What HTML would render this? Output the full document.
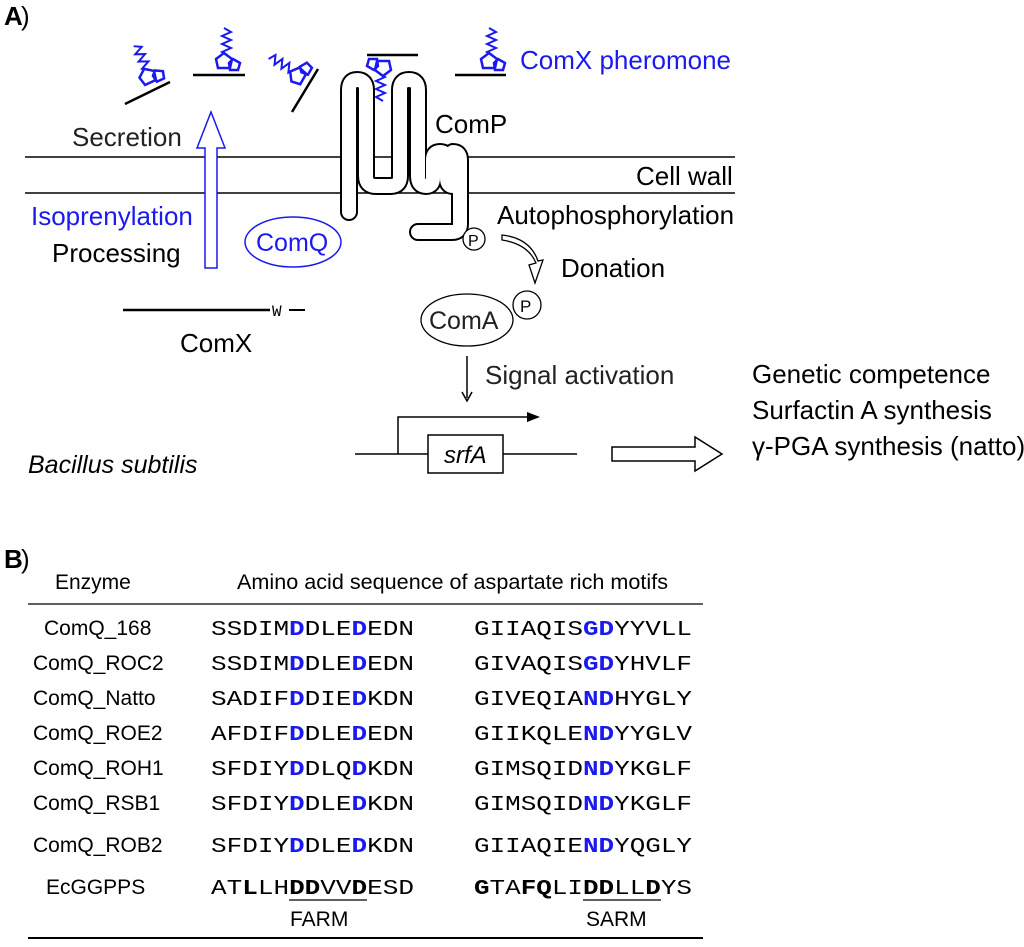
<!DOCTYPE html>
<html><head><style>
html,body{margin:0;padding:0;background:#fff;}
svg text{font-family:"Liberation Sans",sans-serif;}
.m{font-family:"Liberation Mono",monospace !important;font-size:21px;}
.b{font-weight:bold;}
.bl{fill:#1a1aee;font-weight:bold;}
</style></head><body>
<svg width="1024" height="942" viewBox="0 0 1024 942" xmlns="http://www.w3.org/2000/svg">
<defs>
<g id="lig">
 <polyline points="0,-34 7,-30 -2,-26 7,-22 -2,-18 7,-14 -2,-10 4,-6" fill="none" stroke="#1a1aee" stroke-width="2"/>
 <polygon points="0,-9 8,-3 6,6 -6,6 -8,-3" fill="none" stroke="#1a1aee" stroke-width="2.5"/>
 <polygon points="9,-3 16,1 14,8 6,8 5,1" fill="none" stroke="#1a1aee" stroke-width="2.5"/>
</g>
</defs>
<text x="4" y="25" font-size="26" class="b">A</text><text x="21" y="25" font-size="26">)</text>
<!-- ligands -->
<line x1="125" y1="104" x2="170" y2="82" stroke="#000" stroke-width="2.5"/>
<g transform="translate(148,77) rotate(-25)"><use href="#lig"/></g>
<line x1="193" y1="75" x2="245" y2="75" stroke="#000" stroke-width="2.5"/>
<g transform="translate(224,62)"><use href="#lig"/></g>
<line x1="292" y1="112" x2="318" y2="69" stroke="#000" stroke-width="2.5"/>
<g transform="translate(298,76) rotate(-60)"><use href="#lig"/></g>
<line x1="367" y1="55" x2="418" y2="55" stroke="#000" stroke-width="2.5"/>
<g transform="translate(383,67) rotate(180)"><use href="#lig"/></g>
<line x1="455" y1="75" x2="506" y2="75" stroke="#000" stroke-width="2.5"/>
<g transform="translate(489,62)"><use href="#lig"/></g>
<text x="520" y="69" font-size="26" fill="#1a1aee">ComX pheromone</text>
<!-- membrane -->
<line x1="25" y1="157" x2="735" y2="157" stroke="#000" stroke-width="1.5"/>
<line x1="25" y1="193" x2="735" y2="193" stroke="#000" stroke-width="1.5"/>
<text x="72" y="146" font-size="26" fill="#222">Secretion</text>
<text x="636" y="185" font-size="26">Cell wall</text>
<text x="435" y="133" font-size="26">ComP</text>
<!-- ComP -->
<path id="cp" d="M349,212 L349,90 Q349,80 357,80 Q366,80 366,90 L366,176 Q366,186 376,186 L391,186 Q400,186 400,176 L400,90 Q400,80 409,80 Q418,80 418,90 L418,176 Q418,186 426,186 Q433,186 433,178 L433,160 Q433,152 440,152 Q447,152 447,160 L447,178 Q447,186 453,186 Q460,186 460,178 L460,160 Q460,152 453,152 M460,166 L460,224 Q460,232 452,232 L418,232" fill="none" stroke-linejoin="round" stroke-linecap="round"/>
<use href="#cp" stroke="#000" stroke-width="18" fill="none"/>
<use href="#cp" stroke="#fff" stroke-width="14" fill="none"/>
<circle cx="474" cy="239" r="11" fill="#fff" stroke="#000" stroke-width="1.3"/>
<text x="468" y="246" font-size="16">P</text>
<text x="497" y="224" font-size="26">Autophosphorylation</text>
<!-- donation arrow -->
<path d="M502,240 Q528,244 536,263 L529,265 L535,283 L543,260 L538,261 Q530,238 502,235 Z" fill="#fff" stroke="#000" stroke-width="1.3"/>
<text x="561" y="277" font-size="26">Donation</text>
<!-- ComA -->
<ellipse cx="467" cy="320" rx="46" ry="26" fill="#fff" stroke="#000" stroke-width="1.3"/>
<text x="429" y="329" font-size="25" fill="#222">ComA</text>
<circle cx="527" cy="305" r="14" fill="#fff" stroke="#000" stroke-width="1.3"/>
<text x="520" y="312" font-size="17">P</text>
<line x1="467" y1="356" x2="467" y2="398" stroke="#000" stroke-width="1.5"/>
<path d="M462,392 L467,401 L472,392" fill="none" stroke="#000" stroke-width="1.5"/>
<text x="485" y="384" font-size="26" fill="#222">Signal activation</text>
<!-- gene -->
<line x1="355" y1="454" x2="428" y2="454" stroke="#000" stroke-width="1.5"/>
<line x1="503" y1="454" x2="577" y2="454" stroke="#000" stroke-width="1.5"/>
<rect x="428" y="435" width="75" height="38" fill="#fff" stroke="#000" stroke-width="1.5"/>
<text x="444" y="463" font-size="24" font-style="italic">srfA</text>
<path d="M398,454 L398,417 L535,417" fill="none" stroke="#000" stroke-width="1.5"/>
<path d="M527,412 L540,417 L527,422 Z" fill="#000"/>
<path d="M612,447 L695,447 L695,437 L722,454 L695,471 L695,461 L612,461 Z" fill="#fff" stroke="#000" stroke-width="1.5"/>
<text x="752" y="383" font-size="26">Genetic competence</text>
<text x="752" y="419" font-size="26">Surfactin A synthesis</text>
<text x="752" y="455" font-size="26">γ-PGA synthesis (natto)</text>
<text x="28" y="473" font-size="25" font-style="italic">Bacillus subtilis</text>
<!-- left side -->
<text x="31" y="225" font-size="26" fill="#1a1aee">Isoprenylation</text>
<text x="52" y="262" font-size="26">Processing</text>
<path d="M205,268 L205,148 L197,148 L211,112 L225,148 L217,148 L217,268 Z" fill="#fff" stroke="#1a1aee" stroke-width="1.5"/>
<ellipse cx="293" cy="242" rx="48" ry="25" fill="#fff" stroke="#1a1aee" stroke-width="1.5"/>
<text x="256" y="251" font-size="25" fill="#1a1aee">ComQ</text>
<line x1="123" y1="310" x2="270" y2="310" stroke="#000" stroke-width="2.5"/>
<text x="272" y="316" font-size="16" style="font-family:'Liberation Mono',monospace">W</text>
<line x1="289" y1="310" x2="305" y2="310" stroke="#000" stroke-width="2"/>
<text x="180" y="352" font-size="26">ComX</text>
<!-- B -->
<text x="4" y="568" font-size="26" class="b">B</text><text x="21" y="568" font-size="26">)</text>
<text x="55" y="589" font-size="21">Enzyme</text>
<text x="237" y="589" font-size="21" textLength="431" lengthAdjust="spacingAndGlyphs">Amino acid sequence of aspartate rich motifs</text>
<line x1="28" y1="604" x2="703" y2="604" stroke="#000" stroke-width="1.3"/>
<line x1="28" y1="938" x2="703" y2="938" stroke="#000" stroke-width="2"/>
<g font-size="21">
<text x="44" y="635">ComQ_168</text>
<text x="33" y="670">ComQ_ROC2</text>
<text x="33" y="705">ComQ_Natto</text>
<text x="33" y="740">ComQ_ROE2</text>
<text x="33" y="775">ComQ_ROH1</text>
<text x="33" y="810">ComQ_RSB1</text>
<text x="33" y="852">ComQ_ROB2</text>
<text x="46" y="894">EcGGPPS</text>
</g>
<g class="m">
<text class="m" x="211" y="635" textLength="203" lengthAdjust="spacingAndGlyphs">SSDIM<tspan class="bl">D</tspan>DLE<tspan class="bl">D</tspan>EDN</text>
<text class="m" x="474" y="635" textLength="218" lengthAdjust="spacingAndGlyphs">GIIAQIS<tspan class="bl">GD</tspan>YYVLL</text>
<text class="m" x="211" y="670" textLength="203" lengthAdjust="spacingAndGlyphs">SSDIM<tspan class="bl">D</tspan>DLE<tspan class="bl">D</tspan>EDN</text>
<text class="m" x="474" y="670" textLength="218" lengthAdjust="spacingAndGlyphs">GIVAQIS<tspan class="bl">GD</tspan>YHVLF</text>
<text class="m" x="211" y="705" textLength="203" lengthAdjust="spacingAndGlyphs">SADIF<tspan class="bl">D</tspan>DIE<tspan class="bl">D</tspan>KDN</text>
<text class="m" x="474" y="705" textLength="218" lengthAdjust="spacingAndGlyphs">GIVEQIA<tspan class="bl">ND</tspan>HYGLY</text>
<text class="m" x="211" y="740" textLength="203" lengthAdjust="spacingAndGlyphs">AFDIF<tspan class="bl">D</tspan>DLE<tspan class="bl">D</tspan>EDN</text>
<text class="m" x="474" y="740" textLength="218" lengthAdjust="spacingAndGlyphs">GIIKQLE<tspan class="bl">ND</tspan>YYGLV</text>
<text class="m" x="211" y="775" textLength="203" lengthAdjust="spacingAndGlyphs">SFDIY<tspan class="bl">D</tspan>DLQ<tspan class="bl">D</tspan>KDN</text>
<text class="m" x="474" y="775" textLength="218" lengthAdjust="spacingAndGlyphs">GIMSQID<tspan class="bl">ND</tspan>YKGLF</text>
<text class="m" x="211" y="810" textLength="203" lengthAdjust="spacingAndGlyphs">SFDIY<tspan class="bl">D</tspan>DLE<tspan class="bl">D</tspan>KDN</text>
<text class="m" x="474" y="810" textLength="218" lengthAdjust="spacingAndGlyphs">GIMSQID<tspan class="bl">ND</tspan>YKGLF</text>
<text class="m" x="211" y="852" textLength="203" lengthAdjust="spacingAndGlyphs">SFDIY<tspan class="bl">D</tspan>DLE<tspan class="bl">D</tspan>KDN</text>
<text class="m" x="474" y="852" textLength="218" lengthAdjust="spacingAndGlyphs">GIIAQIE<tspan class="bl">ND</tspan>YQGLY</text>
<text class="m" x="211" y="894" textLength="203" lengthAdjust="spacingAndGlyphs">AT<tspan class="b">L</tspan>LH<tspan class="b">DD</tspan>VV<tspan class="b">D</tspan>ESD</text>
<text class="m" x="474" y="894" textLength="218" lengthAdjust="spacingAndGlyphs"><tspan class="b">G</tspan>TA<tspan class="b">FQ</tspan>LI<tspan class="b">DD</tspan>LL<tspan class="b">D</tspan>YS</text>
</g>
<line x1="289" y1="900" x2="367" y2="900" stroke="#000" stroke-width="1.3"/>
<line x1="583" y1="900" x2="661" y2="900" stroke="#000" stroke-width="1.3"/>
<text x="290" y="926" font-size="21">FARM</text>
<text x="586" y="926" font-size="21">SARM</text>
</svg>
</body></html>
